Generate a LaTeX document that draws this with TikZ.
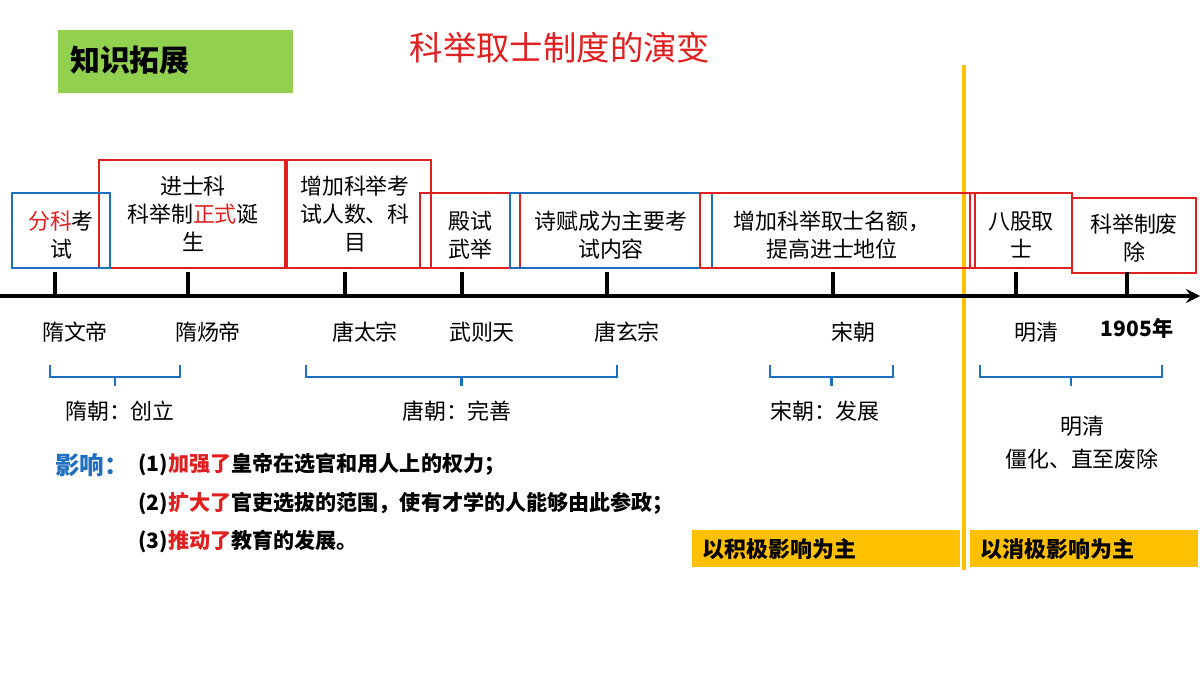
\documentclass[tikz,border=0pt]{standalone}
\usepackage{fontspec}
\setmainfont{Noto Sans CJK SC}
\usetikzlibrary{positioning}
\definecolor{kgreen}{HTML}{92D050}
\definecolor{kgold}{HTML}{FFC000}
\definecolor{kred}{HTML}{E02020}
\definecolor{kblue}{HTML}{1F6FC0}
\tikzset{
  redbox/.style={draw=kred, line width=1.2pt},
  bluebox/.style={draw=kblue, line width=1.2pt},
  boxtext/.style={font=\fontsize{12.5}{16}\selectfont, align=center, inner sep=0pt},
  era/.style={font=\fontsize{12.5}{15}\selectfont, inner sep=0pt},
  brace/.style={draw=kblue, line width=1.3pt},
  impact/.style={font=\bfseries\fontsize{12}{14}\selectfont, inner sep=0pt, anchor=west},
  goldbox/.style={fill=kgold, font=\bfseries\fontsize{12.5}{15}\selectfont, inner sep=0pt}
}
\begin{document}
\begin{tikzpicture}[x=0.02cm, y=-0.02cm]
\useasboundingbox (0,0) rectangle (1200,675);
\fill[white] (0,0) rectangle (1200,675);

% header
\fill[kgreen] (58,30) rectangle (293,93);
\node[font=\bfseries\fontsize{17}{20}\selectfont, anchor=west] (tag) at (64,60) {知识拓展};
\node[text=kred, font=\fontsize{19}{22}\selectfont] (title) at (560,48) {科举取士制度的演变};

% divider and axis
\draw[kgold, line width=2pt] (964,65) -- (964,570);
\coordinate (axisL) at (0,296);
\coordinate (axisR) at (1200,296);
\draw[line width=2.5pt, -stealth] (axisL) -- (axisR);

% event boxes
\draw[redbox] (99,160) rectangle (287,268);
\draw[redbox] (285,160) rectangle (431,268);
\draw[redbox] (420,193) rectangle (520,268);
\draw[bluebox] (12,193) rectangle (110,268);
\draw[bluebox] (510,193) rectangle (712,268);
\draw[redbox] (700,193) rectangle (975,268);
\draw[redbox] (970,193) rectangle (1072,268);
\draw[redbox] (1072,198) rectangle (1196,273);

\node[boxtext] (fenke) at (61,235) {\textcolor{kred}{分科}考\\试};
\node[boxtext] (jinshi) at (193,214) {进士科\\科举制\textcolor{kred}{正式}诞\\生};
\node[boxtext] (zengjia) at (355,214) {增加科举考\\试人数、科\\目};
\node[boxtext] (dianshi) at (470,235) {殿试\\武举};
\node[boxtext] (shifu) at (611,235) {诗赋成为主要考\\试内容};
\node[boxtext] (mingE) at (832,235) {增加科举取士名额，\\提高进士地位};
\node[boxtext] (bagu) at (1021,235) {八股取\\士};
\node[boxtext] (feichu) at (1134,238) {科举制废\\除};

% ticks and rulers
\foreach \x/\name/\lab in {55/sui1/隋文帝, 188/sui2/隋炀帝, 345/tang1/唐太宗, 462/wu/武则天, 607/tang2/唐玄宗, 833/song/宋朝, 1016/ming/明清}
{
  \draw[line width=2pt] (\x,272) -- (\x,296);
  \node[era] (\name) at (\x+20,332) {\lab};
}
\draw[line width=2pt] (1127,272) -- (1127,296);
\node[era, font=\bfseries\fontsize{12}{14}\selectfont] (y1905) at (1137,328) {1905年};

% period braces
\foreach \a/\b in {50/180, 306/617, 770/893, 980/1162}
{
  \draw[brace] (\a,365) -- (\a,377) -- (\b,377) -- (\b,365);
  \draw[brace] ({(\a+\b)/2},377) -- ({(\a+\b)/2},386);
}
\node[era] (suiP) at (120,411) {隋朝：创立};
\node[era] (tangP) at (457,411) {唐朝：完善};
\node[era] (songP) at (825,411) {宋朝：发展};
\node[era, align=center, font=\fontsize{12.5}{19}\selectfont] (mingP) at (1082,443) {明清\\僵化、直至废除};

% influence
\node[impact, text=kblue, font=\bfseries\fontsize{14}{16}\selectfont] (yx) at (55,465) {影响：};
\node[impact] (i1) at (138,465) {(1)\textcolor{kred}{加强了}皇帝在选官和用人上的权力；};
\node[impact] (i2) at (138,503) {(2)\textcolor{kred}{扩大了}官吏选拔的范围，使有才学的人能够由此参政；};
\node[impact] (i3) at (138,541) {(3)\textcolor{kred}{推动了}教育的发展。};

\fill[kgold] (692,530) rectangle (960,567);
\fill[kgold] (970,530) rectangle (1198,567);
\node[goldbox, anchor=west] (pos) at (702,549) {以积极影响为主};
\node[goldbox, anchor=west] (neg) at (980,549) {以消极影响为主};
\end{tikzpicture}
\end{document}
